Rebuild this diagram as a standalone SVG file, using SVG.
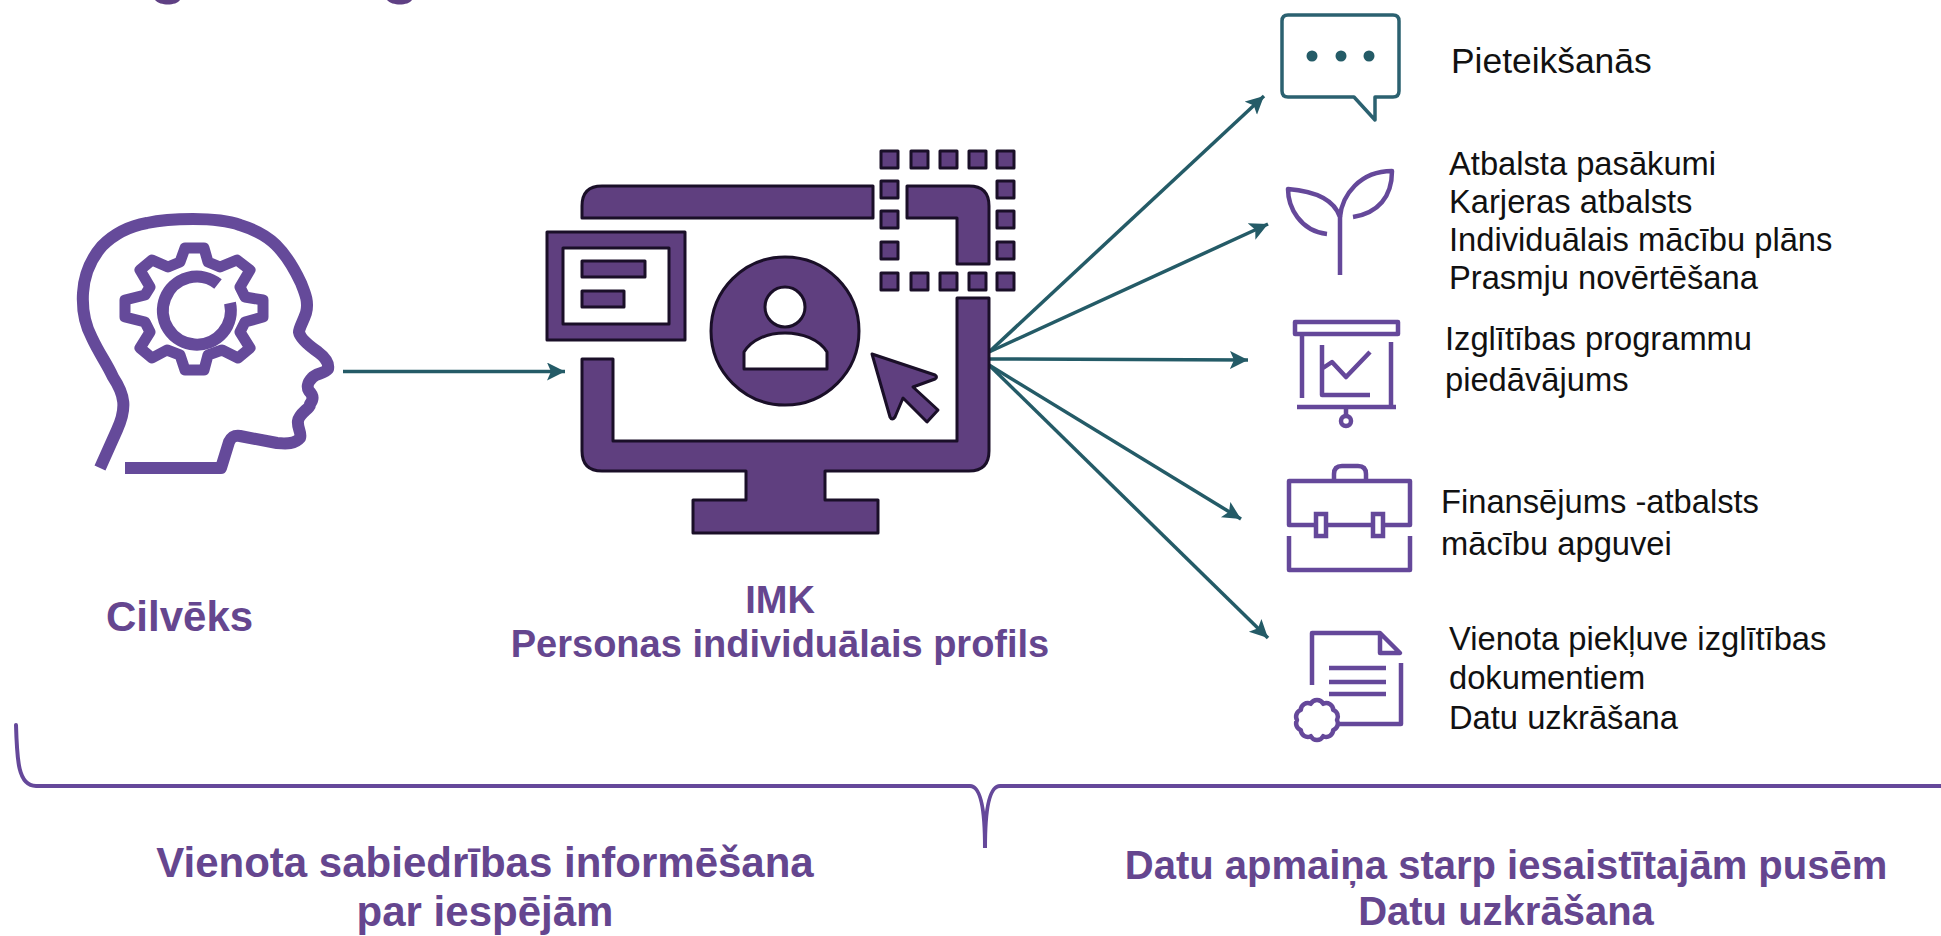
<svg xmlns="http://www.w3.org/2000/svg" width="1941" height="936" viewBox="0 0 1941 936">
<style>
text{font-family:"Liberation Sans",Arial,sans-serif}
.t{font-size:32.700px;fill:#111}
.p{font-size:35.400px;fill:#111}
.b{font-size:38px;font-weight:bold;fill:#65468f}
.b1{font-size:42px}
.b2{font-size:40px}
.hd{fill:none;stroke:#654a9a;stroke-width:12;stroke-linejoin:round}
.ic{fill:none;stroke:#65489a;stroke-width:4.500;stroke-linejoin:round}
.mon{fill:#5f3f7f;stroke:#1a0f28;stroke-width:3;stroke-linejoin:round}
.ln{stroke:#245b67;stroke-width:3.500;fill:none}
.br{fill:none;stroke:#65489a;stroke-width:4;stroke-linecap:round}
</style>
<defs>
<marker id="ah" markerUnits="userSpaceOnUse" markerWidth="22" markerHeight="20" refX="18" refY="9" orient="auto"><path d="M0 0L18 9L0 18L4 9Z" fill="#245b67"/></marker>
</defs>
<rect width="1941" height="936" fill="#fff"/>
<g id="title-fragments" fill="#5f4084">
<path d="M155 0H180C176 6 160 6 155 0Z"/>
<path d="M387 0H412C408 6 392 6 387 0Z"/>
</g>
<g id="connectors">
<line class="ln" x1="343" y1="371.500" x2="565" y2="371.500" marker-end="url(#ah)"/>
<line class="ln" x1="989" y1="352" x2="1264" y2="96" marker-end="url(#ah)"/>
<line class="ln" x1="989" y1="352" x2="1268" y2="224" marker-end="url(#ah)"/>
<line class="ln" x1="989" y1="359" x2="1248" y2="360" marker-end="url(#ah)"/>
<line class="ln" x1="989" y1="365" x2="1241" y2="519" marker-end="url(#ah)"/>
<line class="ln" x1="989" y1="365" x2="1268" y2="638" marker-end="url(#ah)"/>
</g>
<g id="person">
<path class="hd" d="M100 468L117 430C127 408 125 395 113 377C106 362 100 355 92 338C85 325 82 310 83 293C84 275 90 260 102 246C116 232 130 226 147 223C165 219 180 219 193 219C210 219 226 220 240 225C256 230 267 236 276 245C287 256 294 268 301 283C305 293 309 302 306 313C303 322 299 328 299 332C300 338 308 345 318 352C326 358 329 364 328 369C324 374 316 373 312 378C307 383 307 388 309 391C314 396 313 400 310 404C311 408 299 413 298 421C297 428 302 433 300 438C295 444 287 444 277 443L240 436C233 435 231 438 229 442L221 468H125"/>
<path d="M185 248L204 248L208 262L220 267L237 260L250 270L240 287L245 297L263 300L263 317L245 322L240 332L250 348L238 358L222 350L208 355L204 370L185 370L180 355L167 350L152 358L140 348L150 332L145 322L125 317L125 300L145 295L150 287L140 270L152 260L168 267L180 262Z" fill="none" stroke="#654a9a" stroke-width="11" stroke-linejoin="round"/>
<path class="hd" d="M230 303A34 34 0 1 1 218 284"/>
<text class="b b1" x="106" y="631">Cilvēks</text>
</g>
<g id="profile">
<path class="mon" d="M582 218V206Q582 186 602 186H873V218Z"/>
<path class="mon" d="M907 186H969Q989 186 989 206V264H957V218H907Z"/>
<path class="mon" d="M582 359H613V441H957V298H989V451Q989 471 969 471H825V500H878V533H693V500H746V471H602Q582 471 582 451Z"/>
<path class="mon" fill-rule="evenodd" d="M547 232H685V340H547ZM563 248V324H669V248Z"/>
<rect class="mon" x="582" y="261" width="63" height="16"/>
<rect class="mon" x="582" y="291" width="42" height="16"/>
<circle class="mon" cx="785" cy="331" r="74"/>
<circle cx="785" cy="307" r="20" fill="#fff" stroke="#1a0f28" stroke-width="3"/>
<path d="M744 369V352C752 339 768 333 785 333C802 333 819 339 827 352V369Z" fill="#fff" stroke="#1a0f28" stroke-width="3" stroke-linejoin="round"/>
<path class="mon" d="M872 354L935 375Q938 377 935 379L913 387L938 410L927 422L903 398L895 417Q892 421 890 417Z"/>
<g class="mon">
<rect x="881" y="151" width="17" height="17"/><rect x="911" y="151" width="17" height="17"/><rect x="940" y="151" width="17" height="17"/><rect x="969" y="151" width="17" height="17"/><rect x="997" y="151" width="17" height="17"/>
<rect x="881" y="181" width="17" height="17"/><rect x="997" y="181" width="17" height="17"/>
<rect x="881" y="211" width="17" height="17"/><rect x="997" y="211" width="17" height="17"/>
<rect x="881" y="242" width="17" height="17"/><rect x="997" y="242" width="17" height="17"/>
<rect x="881" y="273" width="17" height="17"/><rect x="911" y="273" width="17" height="17"/><rect x="940" y="273" width="17" height="17"/><rect x="969" y="273" width="17" height="17"/><rect x="997" y="273" width="17" height="17"/>
</g>
<text class="b" x="780" y="613" text-anchor="middle">IMK</text>
<text class="b" x="780" y="657" text-anchor="middle">Personas individuālais profils</text>
</g>
<g id="item-pieteiksanas">
<path d="M1288 15H1393Q1399 15 1399 21V91Q1399 97 1393 97H1375V120L1354 97H1288Q1282 97 1282 91V21Q1282 15 1288 15Z" fill="none" stroke="#2b6170" stroke-width="3.500" stroke-linejoin="round"/>
<g fill="#245b67"><circle cx="1312" cy="56" r="5.500"/><circle cx="1341" cy="56" r="5.500"/><circle cx="1369" cy="56" r="5.500"/></g>
<text class="p" x="1451" y="73">Pieteikšanās</text>
</g>
<g id="item-atbalsts">
<path class="ic" d="M1340 275V217C1336 205 1325 192 1288 189C1288 207 1300 231 1327 234"/>
<path class="ic" d="M1340 217C1342 195 1360 171 1392 171C1392 197 1378 213 1353 217"/>
<text class="t" x="1449" y="175">Atbalsta pasākumi</text>
<text class="t" x="1449" y="213">Karjeras atbalsts</text>
<text class="t" x="1449" y="251">Individuālais mācību plāns</text>
<text class="t" x="1449" y="289">Prasmju novērtēšana</text>
</g>
<g id="item-programmas">
<rect class="ic" x="1295" y="322" width="103" height="12"/>
<path class="ic" d="M1302 334V398M1391 342V407M1297 407H1396M1346 407V416M1322 345V395H1370M1323 368L1332 362L1346 377L1370 352"/>
<circle class="ic" cx="1346" cy="421" r="5"/>
<text class="t" x="1445" y="350">Izglītības programmu</text>
<text class="t" x="1445" y="391">piedāvājums</text>
</g>
<g id="item-finansejums">
<path class="ic" d="M1334 480V474Q1334 466 1342 466H1358Q1366 466 1366 474V480M1289 481H1410V525H1289ZM1289 536V570H1410V536"/>
<rect x="1316" y="514" width="10" height="22" fill="#fff" stroke="#65489a" stroke-width="4.500"/>
<rect x="1373" y="514" width="10" height="22" fill="#fff" stroke="#65489a" stroke-width="4.500"/>
<text class="t" x="1441" y="513">Finansējums -atbalsts</text>
<text class="t" x="1441" y="555">mācību apguvei</text>
</g>
<g id="item-dokumenti">
<path class="ic" d="M1312 685V633H1380L1400 653H1380V633M1401 663V724H1338M1329 668H1386M1329 682H1386M1329 694H1386"/>
<path class="ic" transform="translate(1317,720)" d="M20 0A7 7 0 0 1 16.200 10A7 7 0 0 1 6.200 16.200A7 7 0 0 1 -6.200 16.200A7 7 0 0 1 -16.200 10A7 7 0 0 1 -20 0A7 7 0 0 1 -16.200 -10A7 7 0 0 1 -6.200 -16.200A7 7 0 0 1 6.200 -16.200A7 7 0 0 1 16.200 -10A7 7 0 0 1 20 0Z"/>
<text class="t" x="1449" y="650">Vienota piekļuve izglītības</text>
<text class="t" x="1449" y="689">dokumentiem</text>
<text class="t" x="1449" y="729">Datu uzkrāšana</text>
</g>
<g id="summary">
<path class="br" d="M16 725C17 760 18 786 36 786H970C982 786 985 815 985 848C985 815 988 786 1000 786H1941"/>
<text class="b b1" x="485" y="877" text-anchor="middle">Vienota sabiedrības informēšana</text>
<text class="b b1" x="485" y="926" text-anchor="middle">par iespējām</text>
<text class="b b2" x="1506" y="879" text-anchor="middle">Datu apmaiņa starp iesaistītajām pusēm</text>
<text class="b b2" x="1506" y="925" text-anchor="middle">Datu uzkrāšana</text>
</g>
</svg>
